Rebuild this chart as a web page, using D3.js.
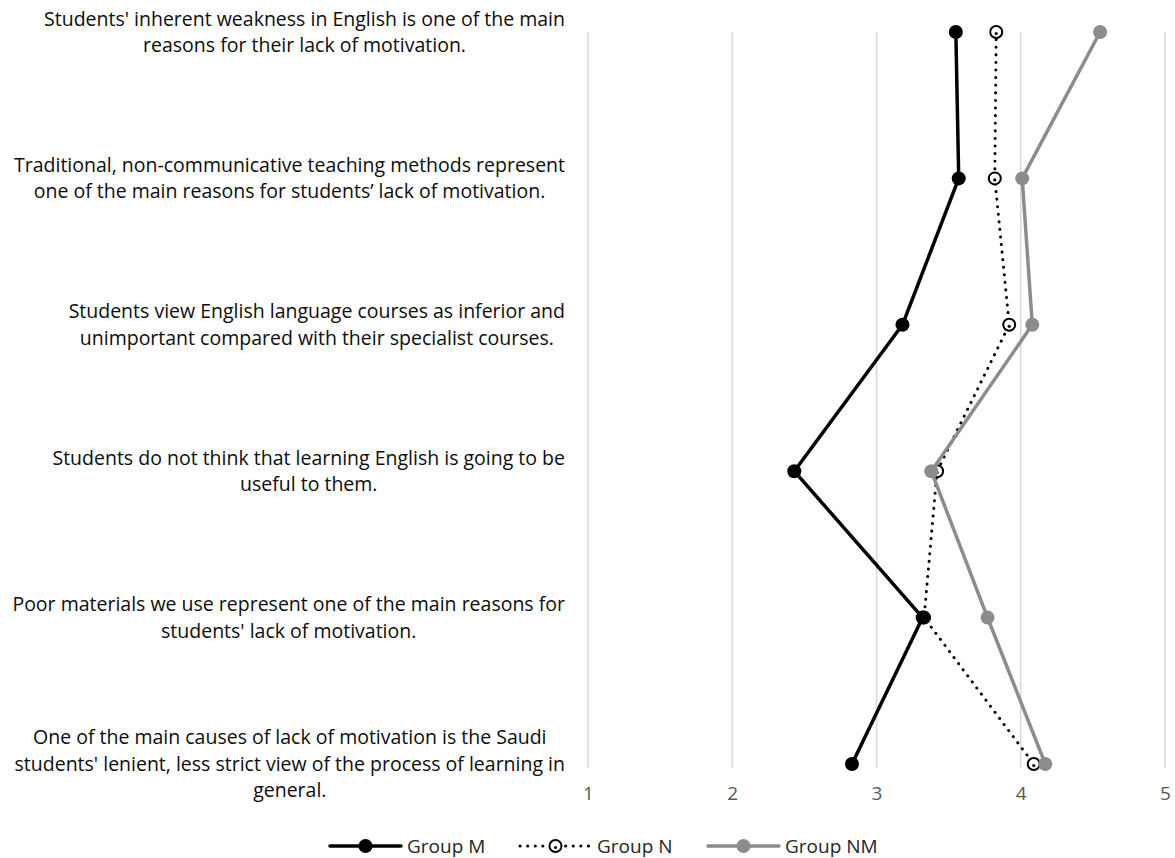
<!DOCTYPE html>
<html>
<head>
<meta charset="utf-8">
<script src="https://cdn.jsdelivr.net/npm/d3@7"></script>
<style>
  html, body { margin: 0; padding: 0; background: #fff; }
  svg { display: block; }
  text { font-family: "Open Sans", "Noto Sans", sans-serif; }
</style>
</head>
<body>
<svg id="chart" width="1175" height="858"></svg>
<script>
// Survey statements (top to bottom), each pre-wrapped into display lines
const statements = [
  ["Students' inherent weakness in English is one of the main", "reasons for their lack of motivation."],
  ["Traditional, non-communicative teaching methods represent", "one of the main reasons for students\u2019 lack of motivation."],
  ["Students view English language courses as inferior and", "unimportant compared with their specialist courses."],
  ["Students do not think that learning English is going to be", "useful to them."],
  ["Poor materials we use represent one of the main reasons for", "students' lack of motivation."],
  ["One of the main causes of lack of motivation is the Saudi", "students' lenient, less strict view of the process of learning in", "general."]
];

// Mean agreement score per statement for each group
const groupM  = [3.55, 3.57, 3.18, 2.43, 3.32, 2.83];
const groupN  = [3.83, 3.82, 3.92, 3.42, 3.33, 4.09];
const groupNM = [4.55, 4.01, 4.08, 3.38, 3.77, 4.17];

const seriesNames = ["Group M", "Group N", "Group NM"];
const xTicks = [1, 2, 3, 4, 5];

const svg = d3.select("#chart");

const x = d3.scaleLinear().domain([1, 5]).range([588, 1165]);
const y = d3.scalePoint().domain(d3.range(statements.length)).range([32, 764]);
const plotTop = 32, plotBottom = 768;

// vertical gridlines
svg.append("g").selectAll("line").data(xTicks).join("line")
  .attr("x1", d => x(d)).attr("x2", d => x(d))
  .attr("y1", plotTop).attr("y2", plotBottom)
  .attr("stroke", "#d9d9d9").attr("stroke-width", 1.5);

// value axis labels
const xAxis = d3.axisBottom(x).tickValues(xTicks).tickFormat(d3.format("d")).tickSize(0).tickPadding(0);
const gx = svg.append("g").attr("transform", `translate(0,${plotBottom + 18})`).call(xAxis);
gx.select(".domain").remove();
gx.selectAll("text").attr("fill", "#595959").attr("font-size", 19)
  .attr("font-family", "'Open Sans', 'Noto Sans', sans-serif").attr("dy", "0.71em");

// category labels: lines centered inside a block whose right edge sits left of the plot
const labelRight = 565, lineH = 26.5, labelSize = 19.5;
const labels = svg.append("g").attr("font-size", labelSize).attr("fill", "#0d0d0d");
statements.forEach((lines, i) => {
  const g = labels.append("g");
  const ts = lines.map(l => g.append("text").attr("text-anchor", "middle").text(l));
  const w = d3.max(ts, t => t.node().getComputedTextLength());
  const cx = labelRight - w / 2;
  const y0 = y(i) - (lines.length - 1) * lineH / 2;
  ts.forEach((t, k) => t.attr("x", cx).attr("y", y0 + k * lineH).attr("dy", "0.35em"));
});

const line = d3.line().x(d => x(d.v)).y(d => y(d.i));
const pts = arr => arr.map((v, i) => ({ v, i }));

const styles = {
  "Group M":  { data: groupM,  stroke: "#000", width: 3.5, dash: null, r: 7, fill: "#000", mstroke: "none", mw: 0 },
  "Group N":  { data: groupN,  stroke: "#000", width: 3,   dash: "0.1 7.5", r: 6, fill: "#fff", mstroke: "#000", mw: 2 },
  "Group NM": { data: groupNM, stroke: "#8c8c8c", width: 3.5, dash: null, r: 7, fill: "#8c8c8c", mstroke: "none", mw: 0 }
};

// draw order: dotted N underneath, then M, then NM on top
["Group N", "Group M", "Group NM"].forEach(name => {
  const s = styles[name];
  const g = svg.append("g");
  g.append("path").attr("d", line(pts(s.data)))
    .attr("fill", "none").attr("stroke", s.stroke).attr("stroke-width", s.width)
    .attr("stroke-linecap", "round").attr("stroke-linejoin", "round")
    .attr("stroke-dasharray", s.dash);
  g.selectAll("circle").data(pts(s.data)).join("circle")
    .attr("cx", d => x(d.v)).attr("cy", d => y(d.i)).attr("r", s.r)
    .attr("fill", s.fill).attr("stroke", s.mstroke).attr("stroke-width", s.mw);
  if (name === "Group N") {
    // small inner dot inside the hollow marker
    g.selectAll("circle.inner").data(pts(s.data)).join("circle").attr("class", "inner")
      .attr("cx", d => x(d.v)).attr("cy", d => y(d.i) + 1.5).attr("r", 1.6).attr("fill", "#000");
  }
});

// legend
const legendY = 846;
const legendX = [330, 520, 708];
seriesNames.forEach((name, k) => {
  const s = styles[name];
  const g = svg.append("g").attr("transform", `translate(${legendX[k]},${legendY})`);
  g.append("line").attr("x1", 0).attr("x2", 71).attr("y1", 0).attr("y2", 0)
    .attr("stroke", s.stroke).attr("stroke-width", s.width)
    .attr("stroke-linecap", "round").attr("stroke-dasharray", s.dash);
  g.append("circle").attr("cx", 35.5).attr("cy", 0).attr("r", s.r)
    .attr("fill", s.fill).attr("stroke", s.mstroke).attr("stroke-width", s.mw);
  if (name === "Group N") g.append("circle").attr("cx", 35.5).attr("cy", 1.5).attr("r", 1.6).attr("fill", "#000");
  g.append("text").attr("x", 77).attr("y", 0).attr("dy", "0.35em")
    .attr("font-size", 19).attr("fill", "#262626").text(name);
});
</script>
</body>
</html>
